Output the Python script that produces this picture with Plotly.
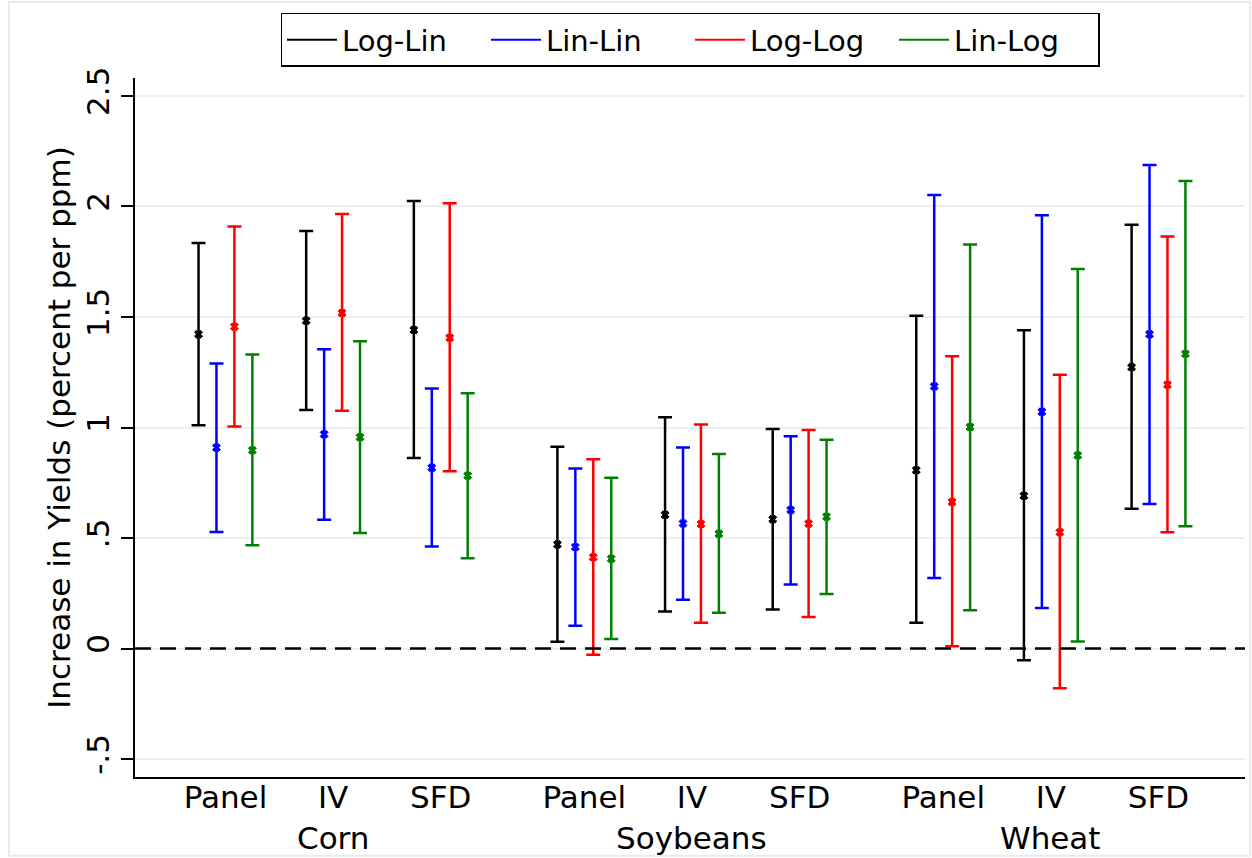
import plotly.graph_objects as go

# ---------------- data ----------------
crops = ["Corn", "Soybeans", "Wheat"]
methods = ["Panel", "IV", "SFD"]
series_names = ["Log-Lin", "Lin-Lin", "Log-Log", "Lin-Log"]

# estimates, lower CI, upper CI  (order: Corn P/IV/SFD, Soy P/IV/SFD, Wheat P/IV/SFD)
loglin_est = [1.422, 1.483, 1.441, 0.471, 0.605, 0.585, 0.807, 0.691, 1.273]
loglin_lo = [1.010, 1.079, 0.862, 0.031, 0.168, 0.177, 0.117, -0.053, 0.633]
loglin_hi = [1.835, 1.889, 2.025, 0.913, 1.046, 0.993, 1.505, 1.440, 1.917]

linlin_est = [0.909, 0.969, 0.818, 0.459, 0.566, 0.627, 1.186, 1.071, 1.422]
linlin_lo = [0.527, 0.583, 0.462, 0.103, 0.221, 0.290, 0.319, 0.183, 0.654]
linlin_hi = [1.290, 1.354, 1.176, 0.814, 0.910, 0.960, 2.052, 1.960, 2.188]

loglog_est = [1.456, 1.518, 1.406, 0.413, 0.563, 0.565, 0.663, 0.526, 1.193]
loglog_lo = [1.005, 1.076, 0.802, -0.028, 0.117, 0.143, 0.010, -0.180, 0.526]
loglog_hi = [1.909, 1.966, 2.014, 0.856, 1.014, 0.989, 1.322, 1.239, 1.864]

linlog_est = [0.897, 0.956, 0.782, 0.406, 0.519, 0.596, 1.002, 0.874, 1.333]
linlog_lo = [0.467, 0.523, 0.408, 0.043, 0.162, 0.247, 0.173, 0.032, 0.553]
linlog_hi = [1.330, 1.390, 1.155, 0.773, 0.880, 0.945, 1.828, 1.717, 2.115]

ytick_vals = [-0.5, 0, 0.5, 1, 1.5, 2, 2.5]
ytick_text = ["-.5", "0", ".5", "1", "1.5", "2", "2.5"]

# ---------------- layout helpers ----------------
colors = ["#000000", "#0000ff", "#ff0000", "#008000"]
GROUP_STEP = len(methods) + 1.0 / 3.0
OFFSETS = [-0.25, -0.0833, 0.0833, 0.25]

cat_pos = [g * GROUP_STEP + m for g in range(len(crops)) for m in range(len(methods))]
cat_text = [m for _ in crops for m in methods]
crop_pos = [g * GROUP_STEP + (len(methods) - 1) / 2 for g in range(len(crops))]

data = [
    (loglin_est, loglin_lo, loglin_hi),
    (linlin_est, linlin_lo, linlin_hi),
    (loglog_est, loglog_lo, loglog_hi),
    (linlog_est, linlog_lo, linlog_hi),
]

FONT = "DejaVu Sans"
FS = 31

fig = go.Figure()
for i, (name, (est, lo, hi)) in enumerate(zip(series_names, data)):
    xs = [p + OFFSETS[i] for p in cat_pos]
    fig.add_trace(go.Scatter(
        x=xs, y=est, mode="markers", name=name, showlegend=False,
        marker=dict(symbol="x", size=7, color=colors[i], line=dict(width=1, color=colors[i])),
        error_y=dict(type="data", symmetric=False,
                     array=[h - e for h, e in zip(hi, est)],
                     arrayminus=[e - l for e, l in zip(est, lo)],
                     color=colors[i], thickness=2.5, width=7),
    ))
for i, name in enumerate(series_names):
    fig.add_trace(go.Scatter(
        x=[None], y=[None], mode="lines", name=name,
        line=dict(color=colors[i], width=2), showlegend=True))

# zero reference line
fig.add_shape(type="line", xref="paper", yref="y", x0=0, x1=1, y0=0, y1=0,
              line=dict(color="black", width=2.5, dash="16px,9px"), layer="above")
# faint outer frame
fig.add_shape(type="rect", xref="paper", yref="paper",
              x0=-0.1135, x1=1.0045, y0=-0.1125, y1=1.1087,
              line=dict(color="#e4edf0", width=2), layer="below")

for c, p in zip(crops, crop_pos):
    fig.add_annotation(x=p, y=-0.1165, xref="x", yref="paper", text=c,
                       showarrow=False, yanchor="bottom",
                       font=dict(family=FONT, size=FS, color="black"))

fig.update_layout(
    width=1252, height=858,
    margin=dict(l=135, r=7, t=78, b=81),
    plot_bgcolor="white", paper_bgcolor="white",
    font=dict(family=FONT, size=FS, color="black"),
    legend=dict(orientation="h", x=0.5, xanchor="center", y=1.093, yanchor="top",
                bordercolor="black", borderwidth=1.5,
                font=dict(family=FONT, size=29, color="black"),
                itemwidth=50, entrywidth=139, entrywidthmode="pixels"),
    xaxis=dict(range=[-0.84, 9.47], showgrid=False, zeroline=False,
               showline=True, linecolor="black", linewidth=1.5,
               tickvals=cat_pos, ticktext=cat_text, ticks="",
               ticklabelstandoff=-8,
               tickfont=dict(family=FONT, size=FS)),
    yaxis=dict(range=[-0.581, 2.581], showgrid=True, gridcolor="#e8f0f2", gridwidth=2,
               zeroline=False, showline=True, linecolor="black", linewidth=1.5,
               tickvals=ytick_vals, ticktext=ytick_text, tickangle=-90,
               ticks="outside", ticklen=12, tickwidth=1.5, tickcolor="black",
               tickfont=dict(family=FONT, size=FS),
               title=dict(text="Increase in Yields (percent per ppm)",
                          font=dict(family=FONT, size=FS), standoff=0)),
)

fig.write_html("out.html")
